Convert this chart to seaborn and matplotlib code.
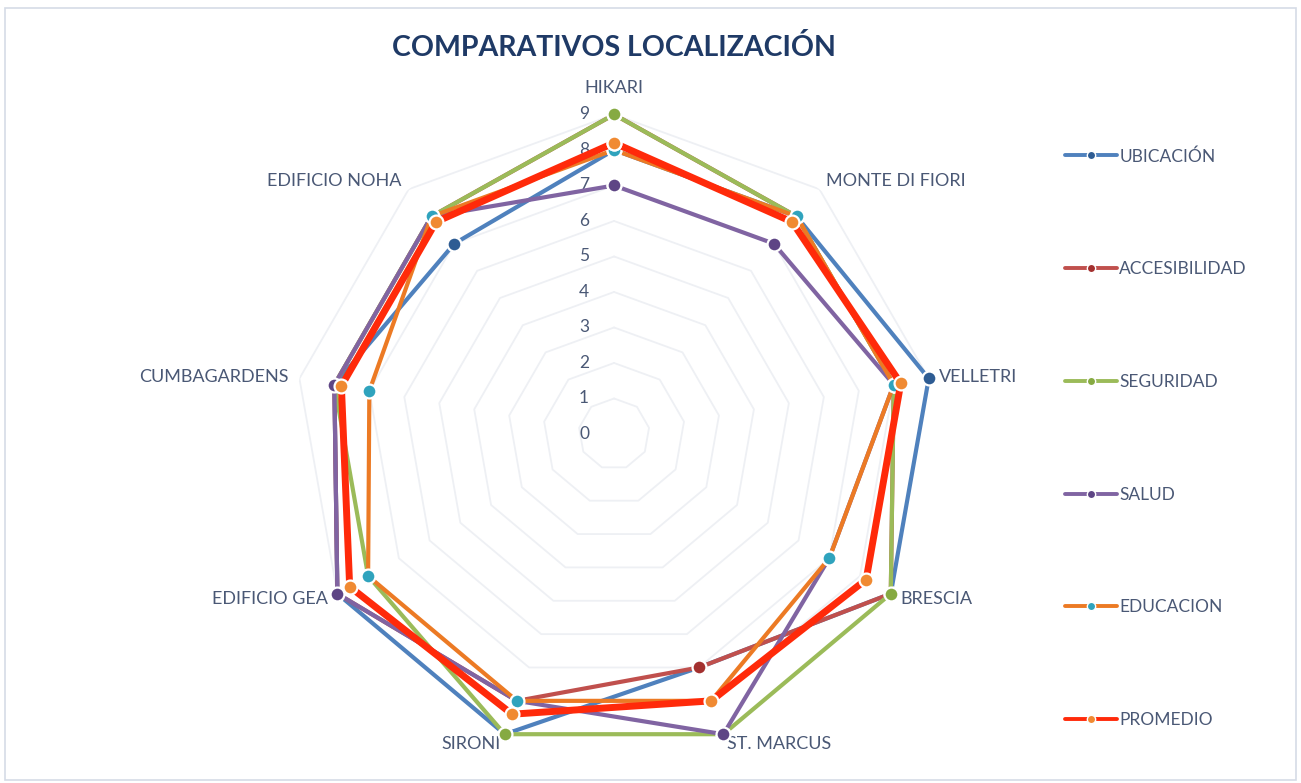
import matplotlib
matplotlib.use('Agg')  # no display
import numpy as np
import pandas as pd
import matplotlib.pyplot as plt
import seaborn as sns
from matplotlib.lines import Line2D
from matplotlib.patches import Rectangle
from matplotlib.transforms import offset_copy

# Datos del grafico
edificios = ['HIKARI', 'MONTE DI FIORI', 'VELLETRI', 'BRESCIA', 'ST. MARCUS',
             'SIRONI', 'EDIFICIO GEA', 'CUMBAGARDENS', 'EDIFICIO NOHA']
ubicacion = [8, 8, 9, 9, 7, 9, 9, 8, 7]
accesibilidad = [9, 8, 8, 9, 7, 8, 9, 8, 8]
seguridad = [9, 8, 8, 9, 9, 9, 8, 8, 8]
salud = [7, 7, 8, 7, 9, 8, 9, 8, 8]
educacion = [8, 8, 8, 7, 8, 8, 8, 7, 8]
promedio = [8.2, 7.8, 8.2, 8.2, 8.0, 8.4, 8.6, 7.8, 7.8]
niveles = list(range(0, 10))

series = {
    'UBICACIÓN': ubicacion,
    'ACCESIBILIDAD': accesibilidad,
    'SEGURIDAD': seguridad,
    'SALUD': salud,
    'EDUCACION': educacion,
    'PROMEDIO': promedio,
}
# line colour, marker colour, line width
estilos = {
    'UBICACIÓN': ('#4F81BD', '#2E5C93', 3.0),
    'ACCESIBILIDAD': ('#C0504D', '#A3302F', 3.0),
    'SEGURIDAD': ('#9BBB59', '#86AA42', 3.0),
    'SALUD': ('#8064A2', '#5E4585', 3.0),
    'EDUCACION': ('#EC7A24', '#2FA3BD', 3.0),
    'PROMEDIO': ('#FF2A0A', '#F08A32', 5.0),
}

n = len(edificios)
angulos = np.linspace(0, 2 * np.pi, n, endpoint=False)
angulos_c = np.append(angulos, angulos[0])

filas = []
for nombre, valores in series.items():
    vals = list(valores) + [valores[0]]
    for i, (a, v) in enumerate(zip(angulos_c, vals)):
        filas.append({'serie': nombre, 'orden': i, 'angulo': a, 'valor': v})
df = pd.DataFrame(filas)

sns.set_theme(style='white')
plt.rcParams['font.family'] = ['Lato', 'DejaVu Sans']
texto = '#4A5875'

fig = plt.figure(figsize=(13.01, 7.83), dpi=100)
fig.patch.set_facecolor('white')
fig.patches.append(Rectangle((0.004, 0.004), 0.992, 0.986, transform=fig.transFigure,
                             fill=False, ec='#D5DCE6', lw=1.2))

ax = fig.add_axes([0.2264, 0.0377, 0.4912, 0.8161], projection='polar')
ax.set_theta_offset(np.pi / 2)
ax.set_theta_direction(-1)
ax.set_ylim(0, 9)
ax.grid(False)
ax.spines['polar'].set_visible(False)
ax.set_xticks([])
ax.set_yticks([])
ax.set_facecolor('none')

# poligonos de la rejilla
for lvl in niveles[1:]:
    ax.plot(angulos_c, [lvl] * len(angulos_c), color='#EEF0F4', lw=1.3, zorder=0)

# series
for k, (nombre, (c_lin, c_mark, lw)) in enumerate(estilos.items()):
    sub = df[df['serie'] == nombre]
    sns.lineplot(data=sub, x='angulo', y='valor', sort=False, estimator=None,
                 color=c_lin, lw=lw, marker='o', markersize=10,
                 markerfacecolor=c_mark, markeredgecolor='white', markeredgewidth=1.6,
                 ax=ax, zorder=3 + k, legend=False, clip_on=False)
ax.set_xlabel('')
ax.set_ylabel('')
ax.set_ylim(0, 9)

# etiquetas del eje radial
trans_r = offset_copy(ax.transData, fig=fig, x=-25, y=0, units='dots')
for lvl in niveles:
    ax.text(0, lvl, str(lvl), transform=trans_r, ha='right', va='center',
            fontsize=12.5, color=texto)

# etiquetas de categorias
for a, nombre in zip(angulos, edificios):
    s = np.sin(a)
    if abs(s) < 0.1:
        ax.text(a, 9.6, nombre, ha='center', va='baseline', fontsize=13, color=texto)
    else:
        ax.text(a, 9.3, nombre, ha='left' if s > 0 else 'right', va='center',
                fontsize=13, color=texto)

fig.text(0.4716, 1 - 48 / 783, 'COMPARATIVOS LOCALIZACIÓN', ha='center', va='center',
         fontsize=20.5, fontweight='bold', color='#1F3A66')

# leyenda
handles = []
for nombre, (c_lin, c_mark, lw) in estilos.items():
    handles.append(Line2D([], [], color=c_lin, lw=2.8, marker='o', markersize=6,
                          markerfacecolor=c_mark, markeredgecolor='white',
                          markeredgewidth=1.0))
fig.legend(handles, list(estilos.keys()), loc='upper left',
           bbox_to_anchor=(1065 / 1301, 1 - 148 / 783), frameon=False,
           fontsize=12.5, labelspacing=5.57, handlelength=3.0, handletextpad=0.12,
           borderpad=0, borderaxespad=0, labelcolor=texto)

fig.savefig('out.png', dpi=100)
